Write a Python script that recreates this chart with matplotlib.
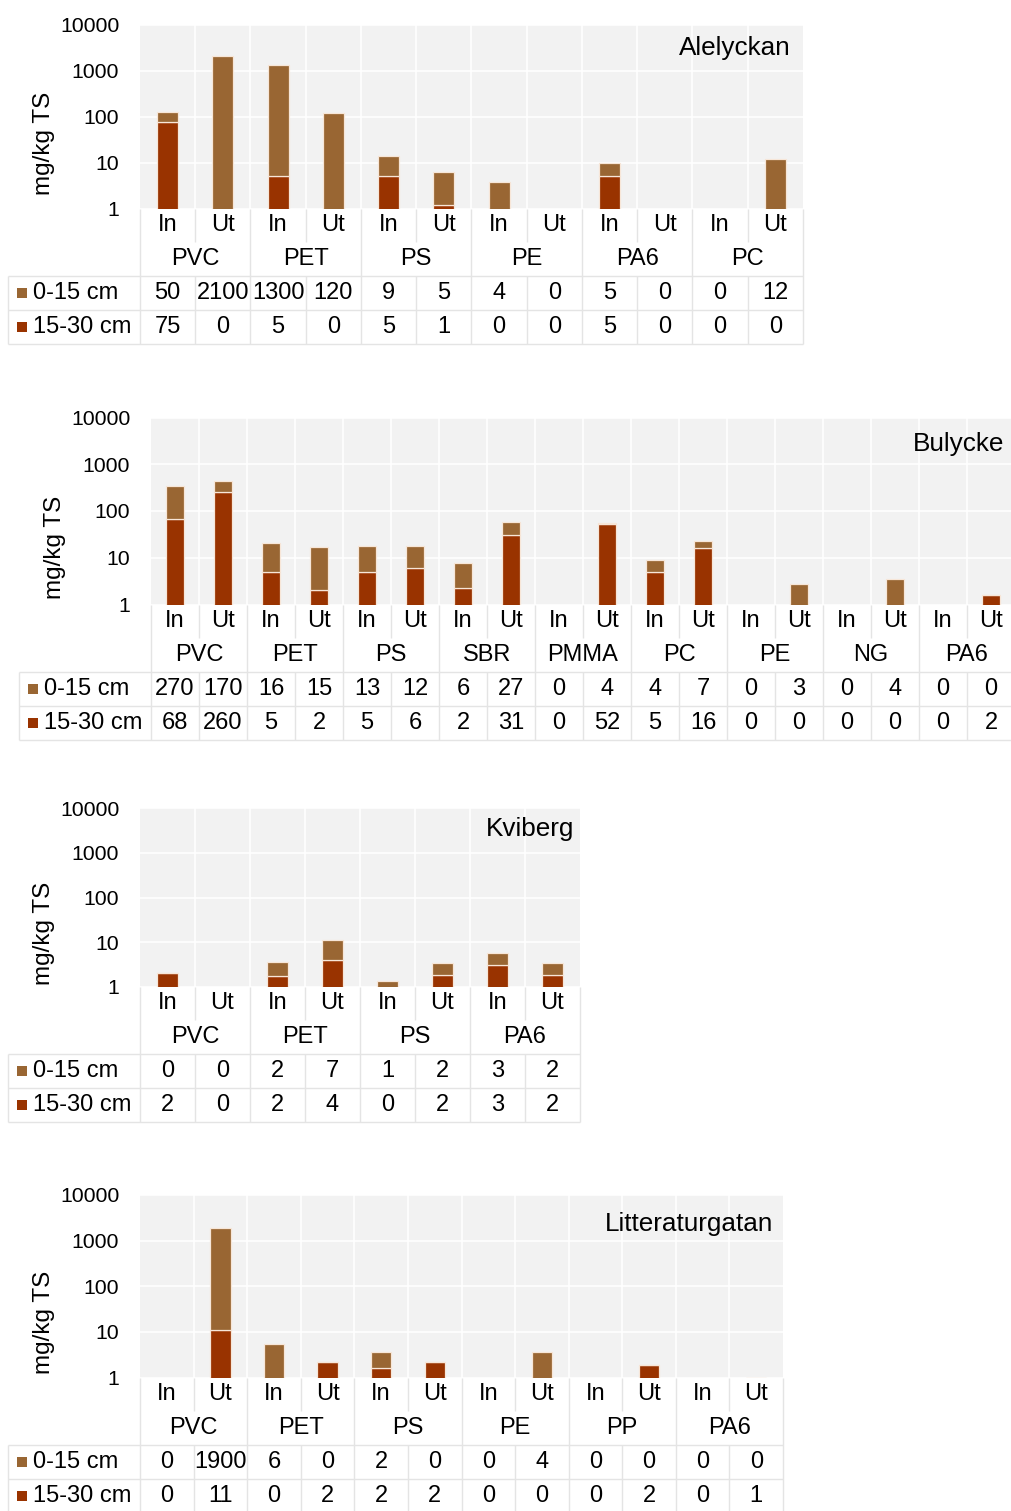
"""Stacked log-scale bar charts with Excel-style data tables, four sites."""

import matplotlib
matplotlib.use('Agg')
import matplotlib.pyplot as plt
import numpy as np

plt.rcParams['font.family'] = ['Liberation Sans', 'DejaVu Sans']

W, H = 1011, 1511

# ---- data ----------------------------------------------------------------
SIDES = ['In', 'Ut']
SERIES = ['0-15 cm', '15-30 cm']

ALE_GROUPS = ['PVC', 'PET', 'PS', 'PE', 'PA6', 'PC']
ALE_TOP = [50, 2100, 1300, 120, 9, 5, 3.7, 0, 5, 0, 0, 12]
ALE_DEEP = [75, 0, 5, 0, 5, 1.2, 0, 0, 5, 0, 0, 0]

BUL_GROUPS = ['PVC', 'PET', 'PS', 'SBR', 'PMMA', 'PC', 'PE', 'NG', 'PA6']
BUL_TOP = [270, 170, 16, 15, 13, 12, 5.5, 27, 0, 4, 4, 7, 0, 2.8, 0, 3.5, 0, 0]
BUL_DEEP = [68, 260, 5, 2, 5, 6, 2.3, 31, 0, 52, 5, 16, 0, 0, 0, 0, 0, 1.6]

KVI_GROUPS = ['PVC', 'PET', 'PS', 'PA6']
KVI_TOP = [0, 0, 1.9, 7, 1.0, 1.6, 2.5, 1.6]
KVI_DEEP = [2.05, 0, 1.7, 4, 0.3, 1.85, 3.1, 1.85]

LIT_GROUPS = ['PVC', 'PET', 'PS', 'PE', 'PP', 'PA6']
LIT_TOP = [0, 1900, 5.5, 0, 2.0, 0, 0, 3.6, 0, 0, 0, 0]
LIT_DEEP = [0, 11, 0, 2.2, 1.6, 2.2, 0, 0, 0, 1.9, 0, 1.0]

YTICKS = [1, 10, 100, 1000, 10000]

# ---- style ---------------------------------------------------------------
C_TOP = '#996633'
C_DEEP = '#993300'
BAR_EDGE = '#f7e6d8'
PLOT_BG = '#f2f2f2'
LINE_C = '#e4e4e4'
BAR_W = 0.38
ROW_H = 33.75
TICK_FS = 15.3
TABLE_FS = 17
TITLE_FS = 18.8
YLABEL_FS = 17.5

# left, right, top, bottom, legend left, title dx, title dy, ylabel dy (pixels)
LAYOUT = {
    'Alelyckan': (140, 803, 24.5, 208.5, 8, 12, 23, 27),
    'Bulycke': (151, 1015, 417.5, 604.5, 19, 11, 26, 36),
    'Kviberg': (140, 580, 808.5, 986.5, 8, 6, 21, 36),
    'Litteraturgatan': (140, 783, 1195, 1377.5, 8, 10, 29, 36),
}


def fmt(v):
    """Round half up, like the spreadsheet's table."""
    return str(int(np.floor(v + 0.5)))


def draw_panel(fig, title, groups, upper, lower):
    left, right, top, bottom, leg_left, tdx, tdy, ldy = LAYOUT[title]
    upper = np.asarray(upper, float)
    lower = np.asarray(lower, float)
    n = len(upper)
    x = np.arange(n)

    ax = fig.add_axes([left / W, 1 - bottom / H,
                       (right - left) / W, (bottom - top) / H])
    ax.set_facecolor(PLOT_BG)
    ax.bar(x, lower, BAR_W, color=C_DEEP, edgecolor=BAR_EDGE,
           linewidth=0.9, zorder=3)
    ax.bar(x, upper, BAR_W, bottom=lower, color=C_TOP, edgecolor=BAR_EDGE,
           linewidth=0.9, zorder=3)
    ax.set_yscale('log')
    ax.set_ylim(1, 10000)
    ax.set_xlim(-0.5, n - 0.5)
    ax.set_yticks(YTICKS)
    ax.set_yticklabels([str(t) for t in YTICKS])
    ax.yaxis.set_minor_locator(matplotlib.ticker.NullLocator())
    ax.set_xticks(x[:-1] + 0.5)
    ax.tick_params(axis='x', length=0, labelbottom=False)
    ax.tick_params(axis='y', length=0, pad=15, labelsize=TICK_FS)
    ax.grid(True, color='white', linewidth=1.2, zorder=0)
    ax.set_axisbelow(True)
    for s in ax.spines.values():
        s.set_visible(False)

    ax.text(1 - tdx / (right - left), 1 - tdy / (bottom - top), title,
            transform=ax.transAxes, ha='right', va='center', fontsize=TITLE_FS)
    fig.text((left - 96) / W, 1 - ((top + bottom) / 2 + ldy) / H, 'mg/kg TS',
             rotation=90, ha='center', va='center', fontsize=YLABEL_FS)

    # data table underneath
    col_w = (right - left) / n
    lead = (left - leg_left) / col_w
    x0 = -0.5 - lead
    tab = fig.add_axes([leg_left / W, 1 - (bottom + 4 * ROW_H) / H,
                        (right - leg_left) / W, 4 * ROW_H / H])
    tab.set_xlim(x0, n - 0.5)
    tab.set_ylim(4, 0)
    tab.axis('off')

    for k in range(n + 1):
        xv = k - 0.5
        if k % 2 == 0:
            tab.vlines(xv, 0, 4, color=LINE_C, lw=1, clip_on=False)
        else:
            tab.vlines(xv, 0, 1, color=LINE_C, lw=1, clip_on=False)
            tab.vlines(xv, 2, 4, color=LINE_C, lw=1, clip_on=False)
    tab.vlines(x0, 2, 4, color=LINE_C, lw=1, clip_on=False)
    tab.hlines([2, 3, 4], x0, n - 0.5, color=LINE_C, lw=1, clip_on=False)

    for i in range(n):
        tab.text(i, 0.5, SIDES[i % 2], ha='center', va='center',
                 fontsize=TABLE_FS)
        tab.text(i, 2.5, fmt(upper[i]), ha='center', va='center',
                 fontsize=TABLE_FS)
        tab.text(i, 3.5, fmt(lower[i]), ha='center', va='center',
                 fontsize=TABLE_FS)
    for g, name in enumerate(groups):
        tab.text(2 * g + 0.5, 1.5, name, ha='center', va='center',
                 fontsize=TABLE_FS)

    for row, (label, color) in enumerate(zip(SERIES, [C_TOP, C_DEEP])):
        tab.scatter([x0 + 14 / col_w], [2.5 + row], marker='s', s=52,
                    color=color, linewidths=0, clip_on=False)
        tab.text(x0 + 25 / col_w, 2.5 + row, label, ha='left', va='center',
                 fontsize=TABLE_FS)


def main():
    fig = plt.figure(figsize=(W / 100, H / 100), dpi=100)
    draw_panel(fig, 'Alelyckan', ALE_GROUPS, ALE_TOP, ALE_DEEP)
    draw_panel(fig, 'Bulycke', BUL_GROUPS, BUL_TOP, BUL_DEEP)
    draw_panel(fig, 'Kviberg', KVI_GROUPS, KVI_TOP, KVI_DEEP)
    draw_panel(fig, 'Litteraturgatan', LIT_GROUPS, LIT_TOP, LIT_DEEP)
    fig.savefig('out.png', dpi=100, facecolor='white')
    plt.close(fig)


if __name__ == '__main__':
    main()
